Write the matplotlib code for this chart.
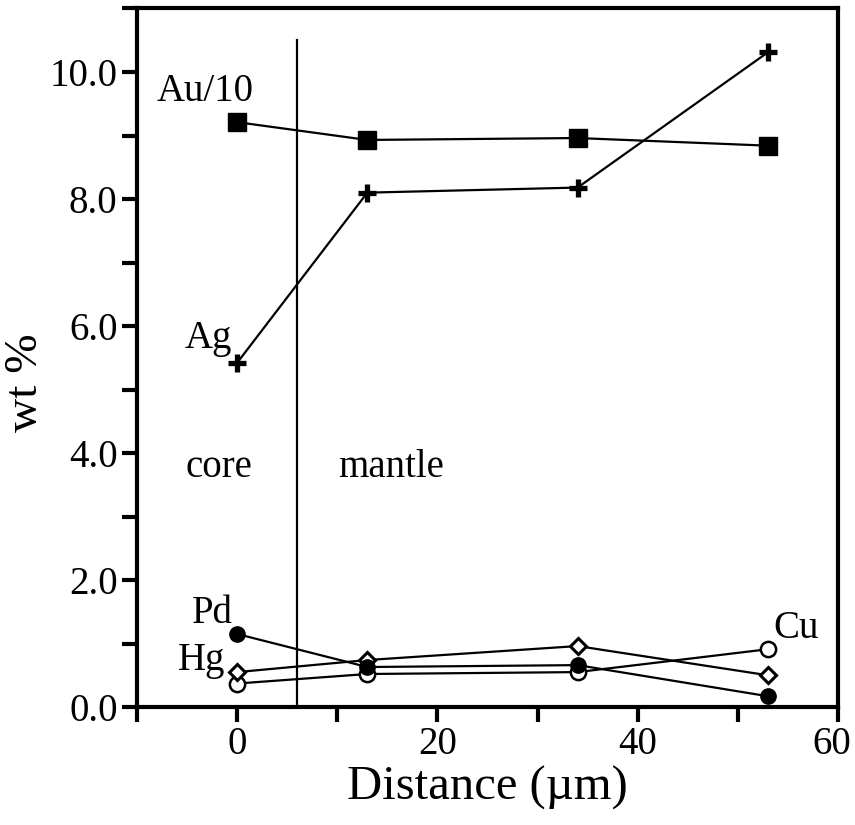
import numpy as np
import matplotlib.pyplot as plt
import matplotlib.transforms as mtransforms
from matplotlib.ticker import MultipleLocator, FormatStrFormatter

plt.rcParams["font.family"] = ["Liberation Serif", "DejaVu Serif"]

# distance from the core centre (um)
distance = [0, 13, 34, 53]

# composition, wt %
au_10 = [9.21, 8.93, 8.96, 8.84]
ag    = [5.42, 8.10, 8.18, 10.31]
pd    = [1.15, 0.63, 0.66, 0.17]
hg    = [0.55, 0.74, 0.96, 0.50]
cu    = [0.37, 0.52, 0.55, 0.91]

boundary = 6.0   # core / mantle boundary

fig = plt.figure(figsize=(8.55, 8.25), dpi=100)
ax = fig.add_axes([0.1602, 0.1430, 0.8199, 0.8467])

line_kw = dict(color="black", linewidth=1.6, clip_on=False, zorder=3)

ax.plot(distance, au_10, marker="s", markersize=13,
        markerfacecolor="black", markeredgecolor="black", **line_kw)
ax.plot(distance, ag, marker="+", markersize=13, markeredgewidth=3.8,
        markeredgecolor="black", **line_kw)
ax.plot(distance, cu, marker="o", markersize=11,
        markerfacecolor="white", markeredgecolor="black",
        markeredgewidth=1.8, **line_kw)
ax.plot(distance, hg, marker="D", markersize=8.5,
        markerfacecolor="white", markeredgecolor="black",
        markeredgewidth=2.2, **line_kw)
ax.plot(distance, pd, marker="o", markersize=11,
        markerfacecolor="black", markeredgecolor="black", **line_kw)

ax.plot([boundary, boundary], [0, 10.5], color="black", linewidth=1.6,
        zorder=2)

# labels
fs = 28
ax.text(-8.0, 9.54, "Au/10", fontsize=fs, ha="left", va="baseline")
ax.text(-5.2, 5.66, "Ag", fontsize=fs, ha="left", va="baseline")
ax.text(-5.2, 3.62, "core", fontsize=fs, ha="left", va="baseline")
ax.text(10.1, 3.62, "mantle", fontsize=fs, ha="left", va="baseline")
ax.text(-4.5, 1.32, "Pd", fontsize=fs, ha="left", va="baseline")
ax.text(-5.9, 0.58, "Hg", fontsize=fs, ha="left", va="baseline")
ax.text(53.5, 1.08, "Cu", fontsize=fs, ha="left", va="baseline")

ax.set_xlim(-10, 60)
ax.set_ylim(0, 11)

ax.set_xticks([0, 20, 40, 60])
ax.xaxis.set_minor_locator(MultipleLocator(10))
ax.yaxis.set_major_locator(MultipleLocator(2))
ax.yaxis.set_minor_locator(MultipleLocator(1))
ax.yaxis.set_major_formatter(FormatStrFormatter("%.1f"))

ax.tick_params(which="both", direction="out", length=11, width=3,
               top=False, right=False, labelsize=fs, pad=3)

for s in ax.spines.values():
    s.set_linewidth(3)

ax.set_xlabel("Distance (µm)", fontsize=35, labelpad=2)
ax.set_ylabel("wt %", fontsize=34)
ax.yaxis.set_label_coords(-0.128, 0.465)

# pull the "60" label in a little so it stays on the canvas
fig.canvas.draw()
for lab in ax.get_xticklabels():
    if lab.get_text() == "60":
        lab.set_transform(lab.get_transform() +
                          mtransforms.ScaledTranslation(-6 / 100, 0,
                                                        fig.dpi_scale_trans))

fig.savefig("out.png", dpi=100)
